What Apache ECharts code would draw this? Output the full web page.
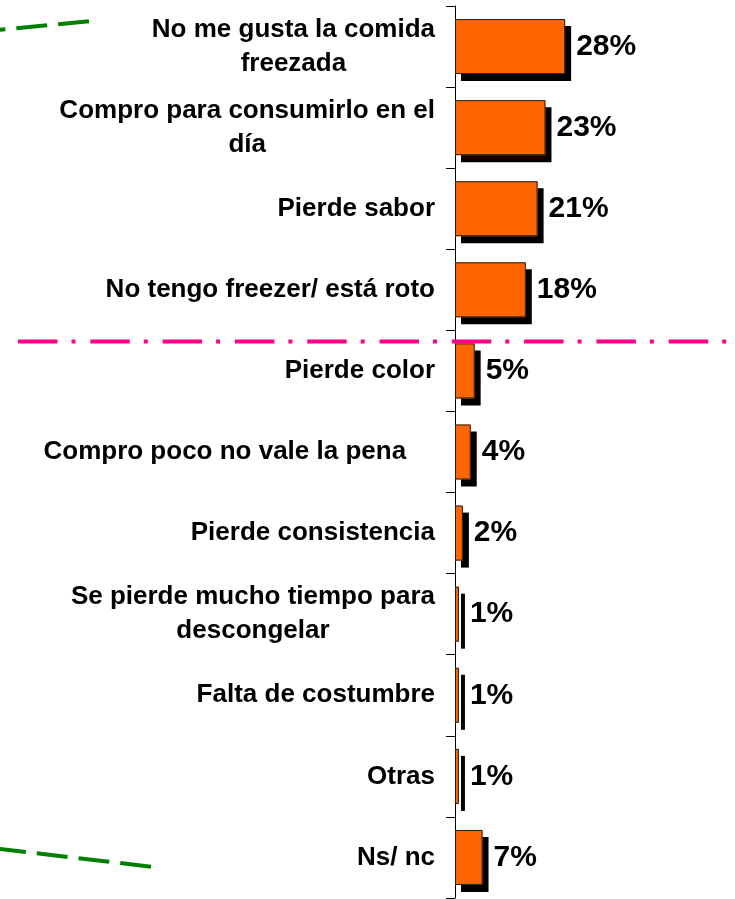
<!DOCTYPE html>
<html>
<head>
<meta charset="utf-8">
<script src="https://cdn.jsdelivr.net/npm/echarts@6/dist/echarts.min.js"></script>
<style>
  html, body { margin: 0; padding: 0; background: #fff; }
  #chart { width: 735px; height: 899px; }
</style>
</head>
<body>
<div id="chart"></div>
<script>
let categories = [
  'No me gusta la comida\nfreezada',
  'Compro para consumirlo en el\ndía',
  'Pierde sabor',
  'No tengo freezer/ está roto',
  'Pierde color',
  'Compro poco no vale la pena    ',
  'Pierde consistencia',
  'Se pierde mucho tiempo para\ndescongelar',
  'Falta de costumbre',
  'Otras',
  'Ns/ nc'
];
let values = [28, 23, 21, 18, 5, 4, 2, 1, 1, 1, 7];

let font = '"Liberation Sans", Arial, sans-serif';

let chart = echarts.init(document.getElementById('chart'));

option = {
  animation: false,
  backgroundColor: '#fff',
  grid: { left: 455, right: 44, top: 6, bottom: 1 },
  xAxis: { type: 'value', min: 0, max: 60, show: false },
  yAxis: {
    type: 'category',
    inverse: true,
    data: categories,
    axisLine: { show: true, lineStyle: { color: '#000', width: 1 } },
    axisTick: { show: true, length: 9, lineStyle: { color: '#000', width: 1 } },
    axisLabel: {
      interval: 0,
      margin: 20,
      formatter: function (v) {
        return v.split('\n').map(function (s) { return '{c|' + s + '}'; }).join('\n');
      },
      rich: {
        c: { align: 'center', fontSize: 26, fontWeight: 'bold', color: '#000', fontFamily: font, lineHeight: 34 }
      }
    },
    splitLine: { show: false }
  },
  series: [
    {
      // fill with drop shadow
      type: 'bar',
      data: values,
      barWidth: 55,
      itemStyle: {
        color: '#FF6600',
        shadowColor: '#000',
        shadowBlur: 0,
        shadowOffsetX: 6,
        shadowOffsetY: 7
      },
      emphasis: { disabled: true }
    },
    {
      // outline + value labels
      type: 'bar',
      data: values,
      barWidth: 55,
      barGap: '-100%',
      itemStyle: {
        color: 'rgba(0,0,0,0)',
        borderColor: '#222',
        borderWidth: 1
      },
      label: {
        show: true,
        position: 'right',
        distance: 11,
        formatter: '{c}%',
        color: '#000',
        fontSize: 30,
        fontWeight: 'bold',
        fontFamily: font
      },
      emphasis: { disabled: true }
    }
  ],
  graphic: [
    {
      type: 'line', z: 100,
      shape: { x1: 18, y1: 341.5, x2: 727, y2: 341.5 },
      style: { stroke: '#FF0088', lineWidth: 4, lineDash: [39.5, 14, 4, 14.8] }
    },
    {
      type: 'line', z: 100,
      shape: { x1: 89, y1: 21.3, x2: -40, y2: 33.7 },
      style: { stroke: '#008000', lineWidth: 4, lineDash: [31, 11] }
    },
    {
      type: 'line', z: 100,
      shape: { x1: 151, y1: 866.7, x2: -20, y2: 846.7 },
      style: { stroke: '#008000', lineWidth: 4, lineDash: [31, 11] }
    }
  ]
};

chart.setOption(option);
</script>
</body>
</html>
